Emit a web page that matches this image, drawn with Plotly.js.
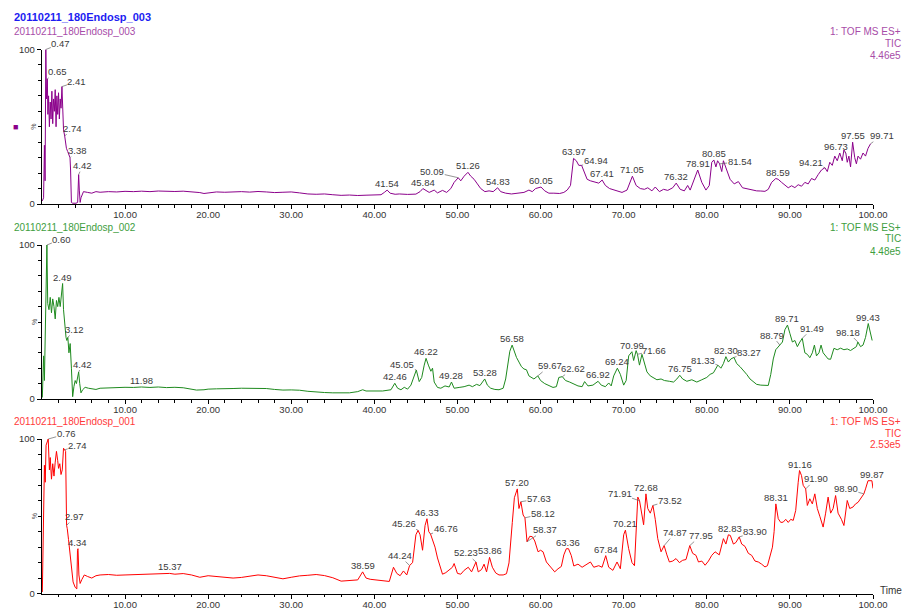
<!DOCTYPE html>
<html><head><meta charset="utf-8">
<script src="https://cdn.plot.ly/plotly-3.0.1.min.js"></script>
<style>html,body{margin:0;padding:0;background:#fff}#chart{width:907px;height:611px}</style>
</head><body><div id="chart"></div>
<script>
// ---------- DATA ----------
const sampleNames = ["20110211_180Endosp_003", "20110211_180Endosp_002", "20110211_180Endosp_001"];
const scanFunc = "1: TOF MS ES+";
const traceType = "TIC";
const scaleTexts = ["4.46e5", "4.48e5", "2.53e5"];
const xTickStep = 10;
const yUnit = "%";
const xUnit = "Time";

// Sample 003 (top, purple)
const t003 = [0.05,0.2,0.3,0.38,0.47,0.55,0.65,0.72,0.8,0.9,1.0,1.1,1.2,1.3,1.4,1.5,1.6,1.7,1.8,1.9,2.0,2.1,2.2,2.3,2.41,2.5,2.6,2.74,2.85,2.95,3.1,3.25,3.38,3.45,3.55,3.7,3.9,4.1,4.3,4.38,4.42,4.5,4.6,4.7,4.85,5.0,5.5,6.0,6.5,7.0,8,9,10,11,12,13,14,15,16,17,18,19,19.5,20,21,22,23,24,25,26,27,28,29,30,31,32,33,34,35,36,37,38,39,40,40.8,41.2,41.54,41.9,42.5,43,44,45,45.5,45.84,46.2,46.6,47.2,47.6,48.2,48.7,49.2,49.6,50.09,50.4,50.8,51.26,51.6,52,52.4,52.8,53.3,53.8,54.3,54.83,55.2,55.8,56.5,57.2,58,58.6,59,59.4,60.05,60.5,61,61.6,62.3,62.8,63.2,63.6,63.8,63.97,64.3,64.6,64.94,65.3,65.6,66.0,66.5,67,67.41,67.8,68.3,68.8,69.3,69.8,70.4,71.05,71.5,72,72.5,72.9,73.4,73.8,74.3,74.8,75.3,75.9,76.32,76.8,77.3,77.7,78.0,78.4,78.91,79.4,79.9,80.3,80.6,80.85,81.1,81.3,81.54,81.8,82.0,82.4,82.8,83.3,83.8,84.3,85,85.5,86,86.5,87,87.4,87.8,88.3,88.59,89,89.4,89.8,90.2,90.6,91,91.4,91.8,92.2,92.6,93,93.4,93.8,94.21,94.5,94.8,95.1,95.4,95.7,96.0,96.3,96.5,96.73,96.9,97.1,97.3,97.55,97.8,98.0,98.2,98.5,98.8,99.1,99.4,99.71];
const v003 = [2,4,38,15,100,68,81,58,70,50,66,55,73,52,68,60,74,50,70,58,72,55,68,62,76,60,48,44,40,36,34,32,30,22,1,0.5,0.5,0.5,1,18,19,9,1,4,6,8,7.5,7,8,7.6,8,7.8,8.2,8,8.3,8,8.4,8.2,8.1,8.3,8,7.4,6.8,7.2,7.8,7.6,7.9,8,7.7,8.1,7.8,7.4,7.6,7.8,7.2,6.5,6.3,6.5,6,5.6,5.8,5.5,5.7,5.6,6,7.5,9,7,6.3,6.5,6.2,6.4,8,10,9,7.5,9,7.2,8.8,7.5,10,14,17,15,18,20.5,18,16,13,10,8,8.5,8,10.5,8,7,6.5,7,7.5,9,8,10,11,8.5,7,7,6.8,7.5,9,12,22,29.5,28,25,25,20,16,15,14,13.5,15.5,12,10,9,8,7.5,9,18,12,10,9.5,10.5,8.5,11,8,9.5,8.8,10.5,13.5,9.5,8.5,12,9,15,22,14,9,12,27,28.5,24,28,26,21,28,22,16,13,14.5,10.5,9.5,9,8.5,8.4,8.2,9.5,14,16.5,16,14,12.5,10.5,11.8,10.6,12.5,11.5,14,13,16.5,15.5,19,22,23.5,21,27,25,31,28,33,28,35,33,27,31,24,40,30,26,31,29,33,31,36,39];
const peakT003 = [0.47,0.65,2.41,2.74,3.38,4.42,41.54,45.84,50.09,51.26,54.83,60.05,63.97,64.94,67.41,71.05,76.32,78.91,80.85,81.54,88.59,94.21,96.73,97.55,99.71];

// Sample 002 (middle, green)
const t002 = [0.05,0.2,0.3,0.45,0.6,0.7,0.85,1.0,1.15,1.3,1.45,1.6,1.75,1.9,2.05,2.2,2.35,2.49,2.6,2.75,2.9,3.0,3.12,3.25,3.4,3.55,3.7,3.85,4.0,4.15,4.3,4.42,4.55,4.7,4.9,5.2,5.6,6,6.5,7,8,9,10,11,11.98,13,14,15,16,17,18,18.6,19.5,20,21,22,23,24,25,26,27,28,29,30,31,32,33,34,35,36,37,38,38.6,39,40,41,42,42.2,42.46,42.8,43.2,43.6,44,44.4,44.7,45.05,45.4,45.7,46.0,46.22,46.5,46.8,47.0,47.2,47.6,48,48.5,49,49.28,49.6,50.2,50.8,51.4,51.8,52.3,52.7,53.28,53.6,54,54.5,55,55.5,55.8,56.1,56.3,56.58,56.8,57.1,57.4,57.7,58.0,58.3,58.6,58.9,59.2,59.67,60,60.5,61,61.5,61.9,62.2,62.62,63,63.5,64,64.5,65,65.3,65.7,66.3,66.92,67.3,67.8,68.2,68.5,68.8,69.24,69.6,70,70.3,70.6,70.99,71.2,71.5,71.66,71.9,72.2,72.5,72.8,73.2,73.6,74,74.5,74.9,75.5,76,76.4,76.75,77.1,77.6,78.2,78.8,79.4,80,80.4,80.8,81.33,81.7,82,82.3,82.6,82.9,83.27,83.6,84,84.4,84.8,85.2,85.6,86,86.5,87,87.4,87.7,88,88.3,88.79,89.1,89.4,89.71,90,90.3,90.6,90.9,91.2,91.49,91.8,92.1,92.4,92.7,92.95,93.2,93.5,93.75,94.0,94.3,94.6,94.9,95.3,95.7,96.1,96.5,96.9,97.3,97.7,98.0,98.18,98.5,98.8,99.1,99.43,99.7,99.9];
const v002 = [1,28,12,58,100,62,58,66,56,65,60,52,64,60,66,60,68,75,58,48,40,38,40,30,36,20,1.5,8,12,10,14,17.5,10,4,6,7.6,7,6.5,6.2,7,7.3,7.2,7.6,7.5,7.8,7.5,7.8,7.4,7.6,7.3,6.5,5.8,6,6.4,6.6,6.5,6.8,7,7,7.2,6.8,6.2,5.8,5.9,5.7,5,4.5,4.2,4,3.8,4,4.8,6,5.2,5,5.2,6,8,10.2,7,6,7.6,6.4,9,14,18.8,11.3,14,22,26.4,22,18,20,11,7.5,7,8.5,7.8,11,7,7.5,8,9,8,9.5,8.7,13,9,7,6.2,6,7,13,25,31,35,31,27,24,21,19.5,19,15,14,13,15,12,10,9,7.5,8,14,14.5,12,11,9.5,8.5,8,11.3,8.5,9,11.5,9,8,10.4,8.5,15,20,16,9,12,28,30.7,25,31.4,29,22,29,24,17.6,15,14,12.5,13,12,11.5,11,13,15.4,13,11.5,12.5,11,12.5,14,16,17,22,20,23,27.5,24,26,27,23,21,18.8,16,13,11,9.5,9,8.8,8.8,16,26,32,35,37,45,48,42.6,37,38,34,37,39.4,30,29,26.8,30,35,28,30,35,30,28,26,25.8,32.9,32,33,32,32.5,31.5,33,34,37,34,35,40,49,42,38];
const peakT002 = [0.60,2.49,3.12,4.42,11.98,42.46,45.05,46.22,49.28,53.28,56.58,59.67,62.62,66.92,69.24,70.99,71.66,76.75,81.33,82.30,83.27,88.79,89.71,91.49,98.18,99.43];

// Sample 001 (bottom, red)
const t001 = [0.05,0.2,0.3,0.4,0.5,0.76,0.9,1.0,1.15,1.3,1.45,1.6,1.75,1.9,2.0,2.15,2.3,2.45,2.6,2.74,2.85,2.97,3.05,3.2,3.4,3.55,3.75,4.0,4.2,4.28,4.34,4.45,4.6,4.8,5.1,5.5,6,6.5,7,8,9,10,11,12,13,14,15.37,16,17,18,19,20,21,22,23,24,25,26,27,28,29,30,31,32,33,34,35,36,37,38,38.59,39,39.5,40,40.5,41,41.8,42.3,42.7,43.1,43.5,43.9,44.24,44.6,45.0,45.26,45.5,45.8,46.1,46.33,46.55,46.76,47.0,47.3,47.6,47.9,48.2,48.6,49,49.4,49.6,50,50.4,50.8,51.3,51.7,52.23,52.5,52.9,53.2,53.5,53.86,54.2,54.6,55,55.5,55.9,56.2,56.6,56.85,57.2,57.4,57.63,57.9,58.12,58.25,58.37,58.7,59.0,59.3,59.7,60.0,60.3,60.7,61.2,61.7,62.1,62.5,62.8,63.1,63.36,63.7,64,64.5,65,65.5,66,66.4,67,67.4,67.84,68.2,68.7,69.2,69.6,70.0,70.21,70.6,71.0,71.3,71.5,71.7,71.91,72.2,72.4,72.68,72.9,73.2,73.52,73.8,74.1,74.5,74.87,75.2,75.5,75.9,76.3,76.7,77.1,77.5,77.95,78.3,78.7,79.0,79.4,79.8,80.2,80.6,81.0,81.5,82.0,82.3,82.6,82.83,83.2,83.5,83.90,84.2,84.6,85.0,85.4,85.8,86.2,86.6,87.0,87.3,87.6,87.9,88.1,88.31,88.6,88.9,89.2,89.5,89.8,90.1,90.4,90.7,91.0,91.16,91.4,91.6,91.9,92.1,92.4,92.7,93.0,93.3,93.6,94.0,94.3,94.6,94.9,95.2,95.5,95.8,96.2,96.5,96.9,97.2,97.6,97.9,98.2,98.6,98.90,99.1,99.4,99.87,100];
const v001 = [1,44,83,72,96,100,80,88,74,84,76,85,92,86,81,84,77,80,94,93,92,44,42,35,24,16,7.5,4,3,28,29,12,6.5,9,12,11,10,11.5,12,12.3,11.8,12,12.2,12.1,12.6,12.8,13,12.5,12.9,12,10.5,11.5,11,10.5,10,10.4,11,12,11.5,10.5,9.5,10.5,11.4,11.8,12.3,11.6,10.2,8,8.5,8.8,14,10,9.2,8.8,8.6,8.3,7.8,17,13,11.5,14.6,12,18.1,20,38,40.9,38,28,44,48.4,40,38.5,35,30,23,17,12.5,13.5,15,17,19.4,13,12.5,15,17,14,20.4,14,15.5,19,14,23.4,17,13.3,12,12,12.8,19.8,46,62,67.7,55,59.4,50.8,49,40,33.5,37,36.8,34,27,28,27,20.4,17,14,16,17.5,25,29,29,24.5,17.8,19,17,19,20.4,17,18,17,24.5,17,15,20.4,16,38,41,29,20,18,45,62.4,60,52,44.5,64.5,55,52,57,48,35.5,27,31,25,20.4,21,22.6,20,21.5,22,31,26,24.7,20.4,21,18.3,21,24.7,27,25,35.5,32,38,37.6,32,33,36.6,32,30.5,26,24.7,21,20.4,19,17.2,18,24,30,40,58,48.4,46,46.2,48,46,48,47.3,53.8,72,79.6,76.3,70,67.7,57,61.3,58,64.5,55,50,43,52,62.4,52,55,63.4,52,48,44,60.2,55,56,58,59,62,64.5,67.7,73,73,68];
const peakT001 = [0.76,2.74,2.97,4.34,15.37,38.59,44.24,45.26,46.33,46.76,52.23,53.86,57.20,57.63,58.12,58.37,63.36,67.84,70.21,71.91,72.68,73.52,74.87,77.95,82.83,83.90,88.31,91.16,91.90,98.90,99.87];

// ---------- STYLE (label leader offsets in px; null = label directly above peak) ----------
const lead003 = [[15,-6],[10,-7],[15,-5],[8,-8],[7,-7],[4,-9],null,null,[-26,-6],null,null,null,null,[14,-5],null,null,null,null,null,[20,-2],null,[-14,-5],[-10,-7],null,[11,-8]];
const lead002 = [[15,-6],null,[7,-8],[4,-8],null,null,[-14,-6],null,null,null,null,[12,-10],[11,-8],null,null,null,[17,-4],null,[-15,-5],null,[15,-5],[-8,-10],null,[10,-10],[-10,-10],null];
const lead001 = [[18,-5],[13,-4],[8,-9],null,null,null,[-10,-10],[-14,-7],null,[15,-6],[-10,-9],null,null,[18,-3],[18,-4],[18,-12],null,null,null,[-20,-7],null,[17,-5],[11,-13],[11,-10],null,[16,-5],null,null,[10,-10],[-18,-5],null];

const lineColors = ["#8b008b", "#1e8a1e", "#ff0000"];
const textColors = ["#a84ca8", "#3e9e3e", "#ff3a3a"];

// ---------- GEOMETRY ----------
const W = 907, H = 611, ML = 42, MR = 34;
const PW = W - ML - MR;
const px = x => (x - ML) / PW;
const py = y => (H - y) / H;
const panels = [ {top: 49.5, bot: 204}, {top: 245, bot: 399}, {top: 439, bot: 593.5} ];
const FONT = "Liberation Sans, Arial, Helvetica, sans-serif";

function xax(anchor) {
  return {domain: [0, 1], range: [0.01, 100], anchor: anchor,
    showline: true, linecolor: "#000", linewidth: 1, mirror: false,
    ticks: "outside", ticklen: 4, tickwidth: 1, tickcolor: "#000",
    tickmode: "linear", tick0: 0, dtick: xTickStep, tickformat: ".2f",
    ticklabelstandoff: -2,
    tickfont: {family: FONT, size: 9.5, color: "#333"},
    showgrid: false, zeroline: false, fixedrange: true,
    minor: {dtick: 2, tick0: 0, ticks: "outside", ticklen: 2.5, tickcolor: "#000", showgrid: false}};
}
function yax(p, anchor) {
  return {domain: [py(p.bot), py(p.top)], range: [0, 100], anchor: anchor,
    showline: true, linecolor: "#000", linewidth: 1.2,
    ticks: "outside", ticklen: 4, tickwidth: 1, tickcolor: "#000",
    tickmode: "linear", tick0: 0, dtick: 100,
    tickfont: {family: FONT, size: 9.5, color: "#333"},
    showgrid: false, zeroline: false, fixedrange: true,
    minor: {dtick: 10, tick0: 0, ticks: "outside", ticklen: 2.5, tickcolor: "#000", showgrid: false}};
}

const series = [
  {t: t003, v: v003, peaks: peakT003, lead: lead003, xa: "x", ya: "y"},
  {t: t002, v: v002, peaks: peakT002, lead: lead002, xa: "x2", ya: "y2"},
  {t: t001, v: v001, peaks: peakT001, lead: lead001, xa: "x3", ya: "y3"}
];

const traces = series.map((s, i) => ({
  x: s.t, y: s.v, xaxis: s.xa, yaxis: s.ya, type: "scatter", mode: "lines",
  line: {color: lineColors[i], width: 1}, hoverinfo: "skip"
}));

const annotations = [];
function nearestV(s, pt) {
  let best = 0, bd = Infinity;
  s.t.forEach((t, k) => { const d = Math.abs(t - pt); if (d < bd) { bd = d; best = k; } });
  return s.v[best];
}
series.forEach((s, i) => {
  s.peaks.forEach((pt, k) => {
    const vy = nearestV(s, pt);
    const L = s.lead[k];
    const base = {x: pt, y: vy, xref: s.xa, yref: s.ya, text: pt.toFixed(2),
      font: {family: FONT, size: 9.5, color: "#3a3a3a"}, borderpad: 0};
    if (L) {
      annotations.push(Object.assign(base, {showarrow: true, arrowhead: 0, arrowwidth: 0.7,
        arrowcolor: "#666", ax: L[0], ay: L[1], standoff: 0}));
    } else {
      annotations.push(Object.assign(base, {showarrow: false, xanchor: "center", yanchor: "bottom", yshift: 0}));
    }
  });
  const p = panels[i];
  const titleY = p.top - 18;
  annotations.push({xref: "paper", yref: "paper", x: px(12), y: py(titleY), xanchor: "left", yanchor: "middle",
    text: sampleNames[i], showarrow: false, font: {family: FONT, size: 10, color: textColors[i]}});
  const rt = [scanFunc, traceType, scaleTexts[i]];
  rt.forEach((txt, j) => annotations.push({xref: "paper", yref: "paper", x: px(903), y: py(titleY + j * 12),
    xanchor: "right", yanchor: "middle", text: txt, showarrow: false,
    font: {family: FONT, size: 10, color: textColors[i]}}));
  annotations.push({xref: "paper", yref: "paper", x: px(34), y: py((p.top + p.bot) / 2), xanchor: "center", yanchor: "middle",
    text: yUnit, textangle: -90, showarrow: false, font: {family: FONT, size: 7, color: "#555"}});
});
annotations.push({xref: "paper", yref: "paper", x: px(12), y: py(17), xanchor: "left", yanchor: "middle",
  text: "<b>" + sampleNames[0] + "</b>", showarrow: false, font: {family: FONT, size: 11, color: "#1c1cf2"}});
annotations.push({xref: "paper", yref: "paper", x: px(15), y: py(127), xanchor: "center", yanchor: "middle",
  text: "■", showarrow: false, font: {family: FONT, size: 9, color: lineColors[0]}});
annotations.push({xref: "paper", yref: "paper", x: px(878), y: py(590), xanchor: "left", yanchor: "middle",
  text: xUnit, showarrow: false, font: {family: FONT, size: 10, color: "#333"}});

const layout = {
  width: W, height: H, margin: {l: ML, r: MR, t: 0, b: 0, pad: 0},
  paper_bgcolor: "#fff", plot_bgcolor: "#fff", showlegend: false,
  font: {family: FONT, size: 10, color: "#333"},
  xaxis: xax("y"), xaxis2: xax("y2"), xaxis3: xax("y3"),
  yaxis: yax(panels[0], "x"), yaxis2: yax(panels[1], "x2"), yaxis3: yax(panels[2], "x3"),
  annotations: annotations
};
Plotly.newPlot("chart", traces, layout, {staticPlot: true, displayModeBar: false});
</script>
</body></html>
